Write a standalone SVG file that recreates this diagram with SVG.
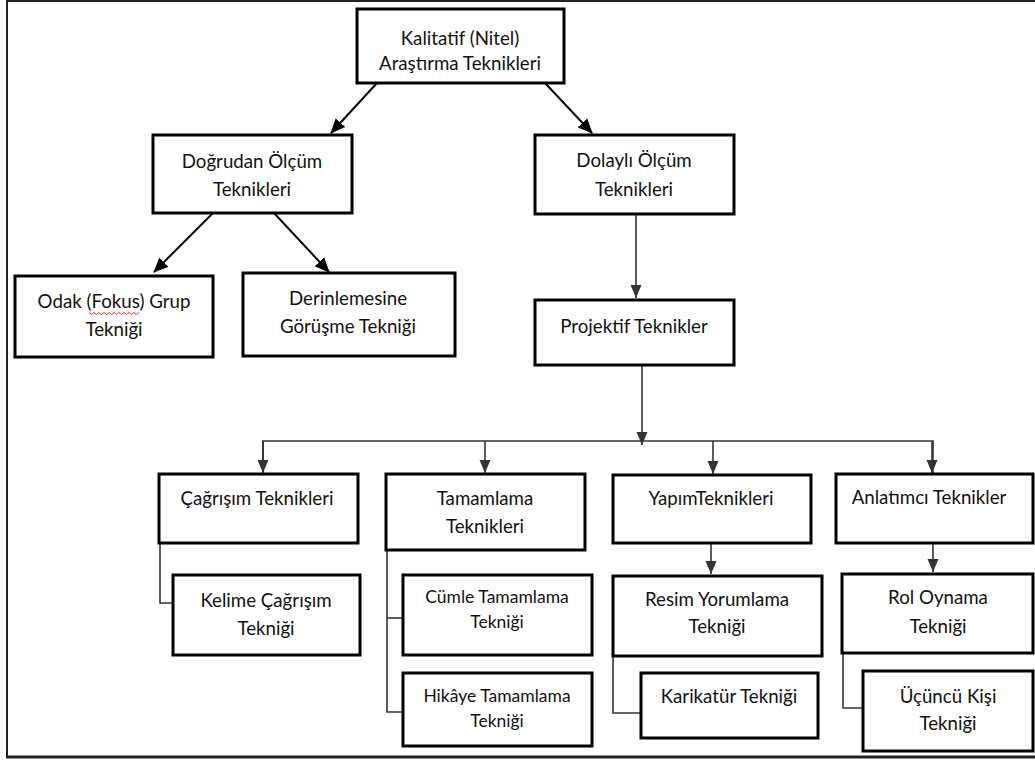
<svg xmlns="http://www.w3.org/2000/svg" width="1035" height="761" viewBox="0 0 1035 761">
<style>
.box{fill:#fff;stroke:#000;stroke-width:3}
.t{font-family:Lato,"Open Sans","Liberation Sans",sans-serif;font-size:18.7px;fill:#111;text-anchor:middle}
.s{font-size:17.5px}
.diag{stroke:#000;stroke-width:2;fill:none}
.tree{stroke:#333;stroke-width:1.6;fill:none}
.frame{stroke:#222;fill:none}
</style>
<defs>
<marker id="ah" markerUnits="userSpaceOnUse" markerWidth="16" markerHeight="16" viewBox="0 0 16 16" refX="14" refY="8" orient="auto">
<path d="M0,1.5 L15,8 L0,14.5 Z" fill="#000"/>
</marker>
<marker id="ah2" markerUnits="userSpaceOnUse" markerWidth="14" markerHeight="14" viewBox="0 0 14 14" refX="13" refY="7" orient="auto">
<path d="M0,1.5 L13,7 L0,12.5 Z" fill="#333"/>
</marker>
</defs>
<rect width="1035" height="761" fill="#fff"/>
<g id="frame">
<line class="frame" x1="7" y1="0" x2="7" y2="758" stroke-width="2"/>
<line class="frame" x1="6" y1="1" x2="1035" y2="1" stroke-width="2"/>
<line class="frame" x1="6" y1="757" x2="1035" y2="757" stroke-width="3"/>
</g>
<g id="connectors">
<line class="diag" x1="377" y1="83" x2="331" y2="133" marker-end="url(#ah)"/>
<line class="diag" x1="545" y1="83" x2="592" y2="133" marker-end="url(#ah)"/>
<line class="diag" x1="213" y1="213" x2="154" y2="272" marker-end="url(#ah)"/>
<line class="diag" x1="274" y1="213" x2="329" y2="272" marker-end="url(#ah)"/>
<line class="tree" x1="636" y1="214" x2="636" y2="298" marker-end="url(#ah2)"/>
<line class="tree" x1="642" y1="365" x2="642" y2="445" marker-end="url(#ah2)"/>
<polyline class="tree" points="263,473 263,441 933,441 933,473"/>
<line class="tree" x1="263" y1="441" x2="263" y2="473" marker-end="url(#ah2)"/>
<line class="tree" x1="485" y1="441" x2="485" y2="473" marker-end="url(#ah2)"/>
<line class="tree" x1="713" y1="441" x2="713" y2="474" marker-end="url(#ah2)"/>
<line class="tree" x1="932" y1="441" x2="932" y2="473" marker-end="url(#ah2)"/>
<line class="tree" x1="711" y1="543" x2="711" y2="574" marker-end="url(#ah2)"/>
<line class="tree" x1="933" y1="538" x2="933" y2="572" marker-end="url(#ah2)"/>
<polyline class="tree" points="160,543 160,603 173,603"/>
<polyline class="tree" points="387,550 387,712 403,712"/>
<line class="tree" x1="387" y1="618" x2="403" y2="618"/>
<polyline class="tree" points="613,656 613,713 641,713"/>
<polyline class="tree" points="843,653 843,708 863,708"/>
</g>
<g id="n1"><rect class="box" x="357" y="9" width="207" height="74"/><text class="t" x="460" y="45">Kalitatif (Nitel)</text><text class="t" x="460" y="70">Araştırma Teknikleri</text></g>
<g id="n2"><rect class="box" x="153" y="135" width="199" height="78"/><text class="t" x="252" y="168">Doğrudan Ölçüm</text><text class="t" x="252" y="196">Teknikleri</text></g>
<g id="n3"><rect class="box" x="535" y="135" width="199" height="79"/><text class="t" x="634" y="167">Dolaylı Ölçüm</text><text class="t" x="634" y="196">Teknikleri</text></g>
<g id="n4"><rect class="box" x="15" y="276" width="198" height="81"/><text class="t" x="114" y="308">Odak (Fokus) Grup</text><text class="t" x="114" y="336">Tekniği</text><path d="M89,312.5 l2.5,2 l2.5,-2 l2.5,2 l2.5,-2 l2.5,2 l2.5,-2 l2.5,2 l2.5,-2 l2.5,2 l2.5,-2 l2.5,2 l2.5,-2 l2.5,2 l2.5,-2 l2.5,2 l2.5,-2 l2.5,2 l2.5,-2 l2.5,2 l2.5,-2" fill="none" stroke="#e03030" stroke-width="1"/></g>
<g id="n5"><rect class="box" x="243" y="273" width="212" height="83"/><text class="t" x="348" y="305">Derinlemesine</text><text class="t" x="348" y="333">Görüşme Tekniği</text></g>
<g id="n6"><rect class="box" x="535" y="300" width="199" height="65"/><text class="t" x="634" y="333">Projektif Teknikler</text></g>
<g id="n7"><rect class="box" x="159" y="474" width="199" height="69"/><text class="t" x="257" y="505">Çağrışım Teknikleri</text></g>
<g id="n8"><rect class="box" x="386" y="474" width="199" height="76"/><text class="t" x="485" y="505">Tamamlama</text><text class="t" x="485" y="533">Teknikleri</text></g>
<g id="n9"><rect class="box" x="613" y="475" width="198" height="68"/><text class="t" x="711" y="505">YapımTeknikleri</text></g>
<g id="n10"><rect class="box" x="836" y="474" width="197" height="69"/><text class="t" x="929" y="504">Anlatımcı Teknikler</text></g>
<g id="n11"><rect class="box" x="173" y="575" width="187" height="80"/><text class="t" x="266" y="607">Kelime Çağrışım</text><text class="t" x="266" y="635">Tekniği</text></g>
<g id="n12"><rect class="box" x="403" y="575" width="189" height="80"/><text class="t s" x="497" y="603">Cümle Tamamlama</text><text class="t s" x="497" y="628">Tekniği</text></g>
<g id="n13"><rect class="box" x="403" y="673" width="189" height="73"/><text class="t s" x="497" y="702">Hikâye Tamamlama</text><text class="t s" x="497" y="727">Tekniği</text></g>
<g id="n14"><rect class="box" x="613" y="576" width="209" height="80"/><text class="t" x="717" y="606">Resim Yorumlama</text><text class="t" x="717" y="633">Tekniği</text></g>
<g id="n15"><rect class="box" x="641" y="673" width="177" height="65"/><text class="t" x="729" y="703">Karikatür Tekniği</text></g>
<g id="n16"><rect class="box" x="842" y="574" width="191" height="79"/><text class="t" x="938" y="604">Rol Oynama</text><text class="t" x="938" y="633">Tekniği</text></g>
<g id="n17"><rect class="box" x="863" y="671" width="170" height="80"/><text class="t" x="948" y="703">Üçüncü Kişi</text><text class="t" x="948" y="730">Tekniği</text></g>
</svg>
